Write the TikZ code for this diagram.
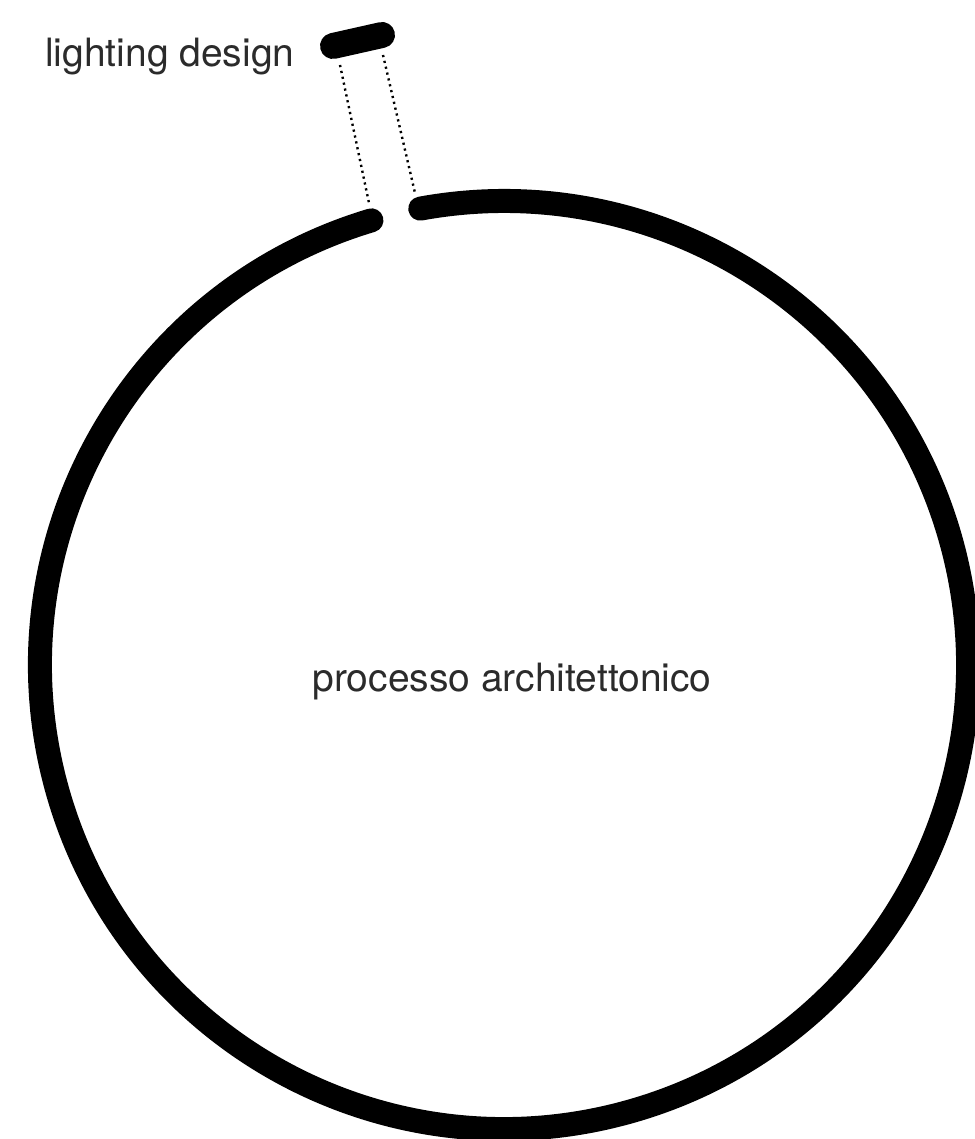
\documentclass[tikz,border=0pt]{standalone}
\usepackage{fontspec}
\setmainfont{TeX Gyre Heros}
\usepackage{xcolor}
\usepackage{tikz}
\usetikzlibrary{positioning,calc}
\definecolor{inkgray}{HTML}{2B2B2B}

\begin{document}
\begin{tikzpicture}[
  x=1pt, y=1pt,
  ring/.style={line width=24pt, line cap=round},
  lamp/.style={line width=26pt, line cap=round},
  link/.style={line width=2.4pt, dash pattern=on 2.2pt off 3.8pt},
  label/.style={font=\fontsize{39}{46}\selectfont, text=inkgray, inner sep=0pt}
]
\useasboundingbox (0,0) rectangle (974,1139);
\coordinate (centre) at (504,474);
% ring with a gap at the top
\draw[ring] (centre) ++(106.6:464pt) arc[start angle=106.6, end angle=460.4, radius=464pt];
\node[label, anchor=base] (process) at (512,447) {processo architettonico};
% lighting design element
\coordinate (lampL) at (333,1093);
\coordinate (lampR) at (382,1104);
\draw[lamp] (lampL) -- (lampR);
\node[label, anchor=base west] (lighting) at (45,1072) {lighting design};
\coordinate (topL) at (340,1074);
\coordinate (topR) at (383,1084);
\coordinate (gapL) at (369,936);
\coordinate (gapR) at (415,946);
\draw[link] (topL) -- (gapL);
\draw[link] (topR) -- (gapR);
\end{tikzpicture}
\end{document}
